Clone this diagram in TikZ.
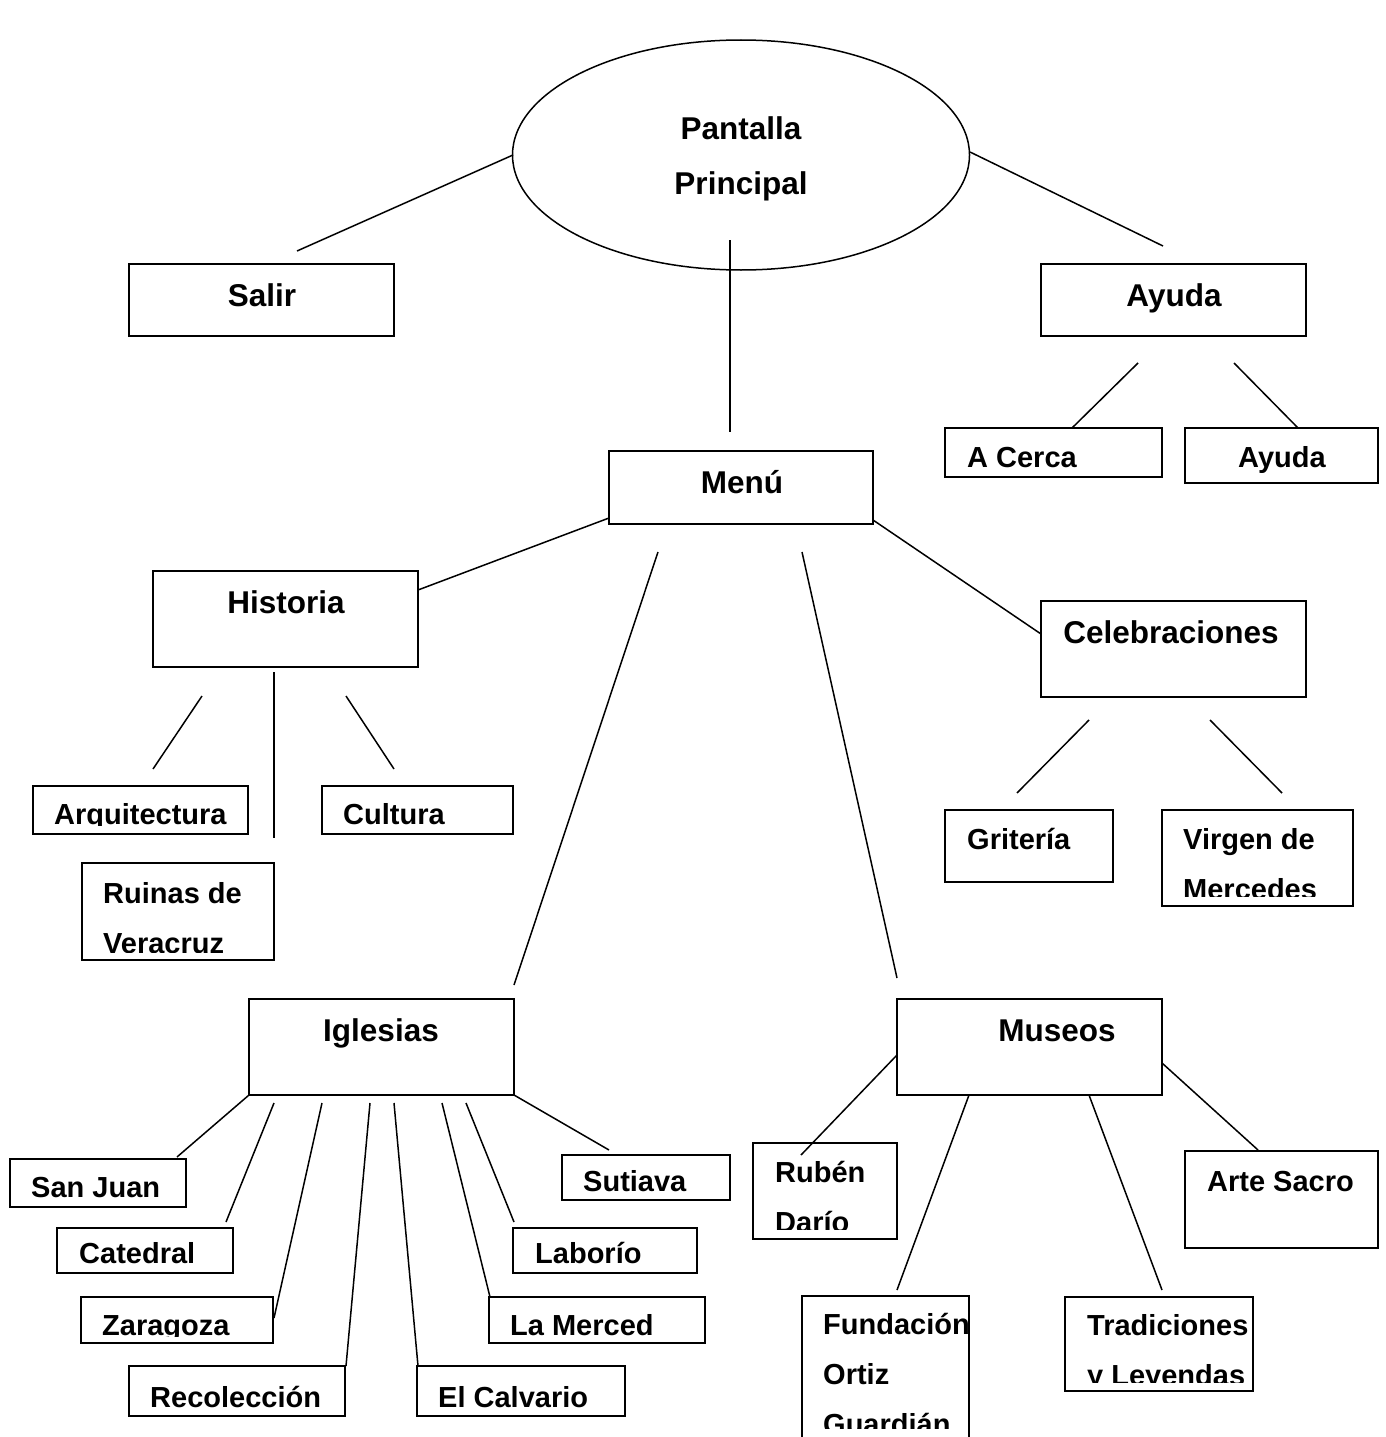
\documentclass[tikz,border=0pt]{standalone}
\usepackage{fontspec}
\setmainfont{Liberation Sans}
\usetikzlibrary{fit}
\tikzset{
  box/.style={draw, line width=1.5pt, rectangle, inner sep=0pt},
  txt/.style={font=\bfseries\fontsize{31.5}{40}\selectfont, inner sep=0pt},
  txs/.style={font=\bfseries\fontsize{29}{40}\selectfont, inner sep=0pt, anchor=base west},
  lnk/.style={line width=1.5pt},
}
\begin{document}
\begin{tikzpicture}[x=1pt,y=-1pt]
\useasboundingbox (0,0) rectangle (1385,1437);
\clip (0,0) rectangle (1385,1437);
\fill[white] (0,0) rectangle (1385,1437);

% ---------- main ellipse ----------
\draw[line width=1.5pt] (741,155) ellipse [x radius=228.5, y radius=115];
\node[inner sep=0pt, minimum width=457, minimum height=230] (main) at (741,155) {};
\node[txt, anchor=base] (main-t1) at (741,139) {Pantalla};
\node[txt, anchor=base] (main-t2) at (741,194) {Principal};

% ---------- boxes ----------
\node[box, fit={(129,264) (394,336)}] (salir) {};
\node[txt, anchor=base] (salir-t) at (262,306) {Salir};

\node[box, fit={(1041,264) (1306,336)}] (ayuda) {};
\node[txt, anchor=base] (ayuda-t) at (1174,306) {Ayuda};

\node[box, fit={(945,428) (1162,477)}] (acerca) {};
\node[txs] (acerca-t) at (967,467) {A Cerca};

\node[box, fit={(1185,428) (1378,483)}] (ayuda2) {};
\node[txs, anchor=base] (ayuda2-t) at (1282,467) {Ayuda};

\node[box, fit={(609,451) (873,524)}] (menu) {};
\node[txt, anchor=base] (menu-t) at (742,493) {Menú};

\node[box, fit={(153,571) (418,667)}] (historia) {};
\node[txt, anchor=base] (historia-t) at (286,613) {Historia};

\node[box, fit={(1041,601) (1306,697)}] (celeb) {};
\node[txt, anchor=base] (celeb-t) at (1171,643) {Celebraciones};

\node[box, fit={(33,786) (248,834)}] (arq) {};
\begin{scope}
\clip (33,786) rectangle (248,825);
\node[txs] (arq-t) at (54,824) {Arquitectura};
\end{scope}

\node[box, fit={(322,786) (513,834)}] (cultura) {};
\node[txs] (cultura-t) at (343,824) {Cultura};

\node[box, fit={(82,863) (274,960)}] (ruinas) {};
\begin{scope}
\clip (82,863) rectangle (274,952);
\node[txs] (ruinas-t1) at (103,903) {Ruinas de};
\node[txs] (ruinas-t2) at (103,953) {Veracruz};
\end{scope}

\node[box, fit={(945,810) (1113,882)}] (griteria) {};
\node[txs] (griteria-t) at (967,849) {Gritería};

\node[box, fit={(1162,810) (1353,906)}] (virgen) {};
\begin{scope}
\clip (1162,810) rectangle (1353,896);
\node[txs] (virgen-t1) at (1183,849) {Virgen de};
\node[txs] (virgen-t2) at (1183,899) {Mercedes};
\end{scope}

\node[box, fit={(249,999) (514,1095)}] (iglesias) {};
\node[txt, anchor=base] (iglesias-t) at (381,1041) {Iglesias};

\node[box, fit={(897,999) (1162,1095)}] (museos) {};
\node[txt, anchor=base] (museos-t) at (1057,1041) {Museos};

% Iglesias children
\node[box, fit={(10,1159) (186,1207)}] (sanjuan) {};
\node[txs] (sanjuan-t) at (31,1197) {San Juan};

\node[box, fit={(57,1228) (233,1273)}] (catedral) {};
\node[txs] (catedral-t) at (79,1263) {Catedral};

\node[box, fit={(81,1297) (273,1343)}] (zaragoza) {};
\begin{scope}
\clip (81,1297) rectangle (273,1336);
\node[txs] (zaragoza-t) at (102,1335) {Zaragoza};
\end{scope}

\node[box, fit={(129,1366) (345,1416)}] (recoleccion) {};
\node[txs] (recoleccion-t) at (150,1407) {Recolección};

\node[box, fit={(417,1366) (625,1416)}] (calvario) {};
\node[txs] (calvario-t) at (438,1407) {El Calvario};

\node[box, fit={(489,1297) (705,1343)}] (merced) {};
\node[txs] (merced-t) at (510,1335) {La Merced};

\node[box, fit={(513,1228) (697,1273)}] (laborio) {};
\node[txs] (laborio-t) at (535,1263) {Laborío};

\node[box, fit={(562,1155) (730,1200)}] (sutiava) {};
\node[txs] (sutiava-t) at (583,1191) {Sutiava};

% Museos children
\node[box, fit={(753,1143) (897,1239)}] (ruben) {};
\begin{scope}
\clip (753,1143) rectangle (897,1229);
\node[txs] (ruben-t1) at (775,1182) {Rubén};
\node[txs] (ruben-t2) at (775,1232) {Darío};
\end{scope}

\node[box, fit={(802,1296) (969,1450)}] (fundacion) {};
\begin{scope}
\clip (802,1296) rectangle (969,1428);
\node[txs] (fundacion-t1) at (823,1334) {Fundación};
\node[txs] (fundacion-t2) at (823,1384) {Ortiz};
\node[txs] (fundacion-t3) at (823,1434) {Guardián};
\end{scope}

\node[box, fit={(1065,1297) (1253,1391)}] (tradiciones) {};
\begin{scope}
\clip (1065,1297) rectangle (1253,1382);
\node[txs] (tradiciones-t1) at (1087,1335) {Tradiciones};
\node[txs] (tradiciones-t2) at (1087,1385) {y Leyendas};
\end{scope}

\node[box, fit={(1185,1151) (1378,1248)}] (arte) {};
\node[txs] (arte-t) at (1207,1191) {Arte Sacro};

% ---------- connector end points ----------
\coordinate (c1a) at (513,155);  \coordinate (c1b) at (297,251);
\coordinate (c2a) at (970,152);  \coordinate (c2b) at (1163,246);
\coordinate (c3a) at (730,240);  \coordinate (c3b) at (730,432);
\coordinate (c4a) at (1138,363); \coordinate (c4b) at (1072,428);
\coordinate (c5a) at (1234,363); \coordinate (c5b) at (1298,428);
\coordinate (c6a) at (609,518);  \coordinate (c6b) at (418,590);
\coordinate (c7a) at (658,552);  \coordinate (c7b) at (514,985);
\coordinate (c8a) at (802,552);  \coordinate (c8b) at (897,978);
\coordinate (c9a) at (873,520);  \coordinate (c9b) at (1041,634);
\coordinate (h1a) at (202,696);  \coordinate (h1b) at (153,769);
\coordinate (h2a) at (274,672);  \coordinate (h2b) at (274,838);
\coordinate (h3a) at (346,696);  \coordinate (h3b) at (394,769);
\coordinate (k1a) at (1089,720); \coordinate (k1b) at (1017,793);
\coordinate (k2a) at (1210,720); \coordinate (k2b) at (1282,793);
\coordinate (i1a) at (249,1095); \coordinate (i1b) at (177,1157);
\coordinate (i2a) at (274,1103); \coordinate (i2b) at (226,1222);
\coordinate (i3a) at (322,1103); \coordinate (i3b) at (274,1318);
\coordinate (i4a) at (370,1103); \coordinate (i4b) at (346,1366);
\coordinate (i5a) at (394,1103); \coordinate (i5b) at (418,1366);
\coordinate (i6a) at (442,1103); \coordinate (i6b) at (490,1297);
\coordinate (i7a) at (466,1103); \coordinate (i7b) at (514,1222);
\coordinate (i8a) at (514,1095); \coordinate (i8b) at (609,1150);
\coordinate (m1a) at (897,1055); \coordinate (m1b) at (801,1155);
\coordinate (m2a) at (969,1095); \coordinate (m2b) at (897,1290);
\coordinate (m3a) at (1089,1095);\coordinate (m3b) at (1162,1290);
\coordinate (m4a) at (1162,1063);\coordinate (m4b) at (1258,1150);

\foreach \c in {c1,c2,c3,c4,c5,c6,c7,c8,c9,h1,h2,h3,k1,k2,i1,i2,i3,i4,i5,i6,i7,i8,m1,m2,m3,m4}
  \draw[lnk] (\c a) -- (\c b);
\end{tikzpicture}
\end{document}
